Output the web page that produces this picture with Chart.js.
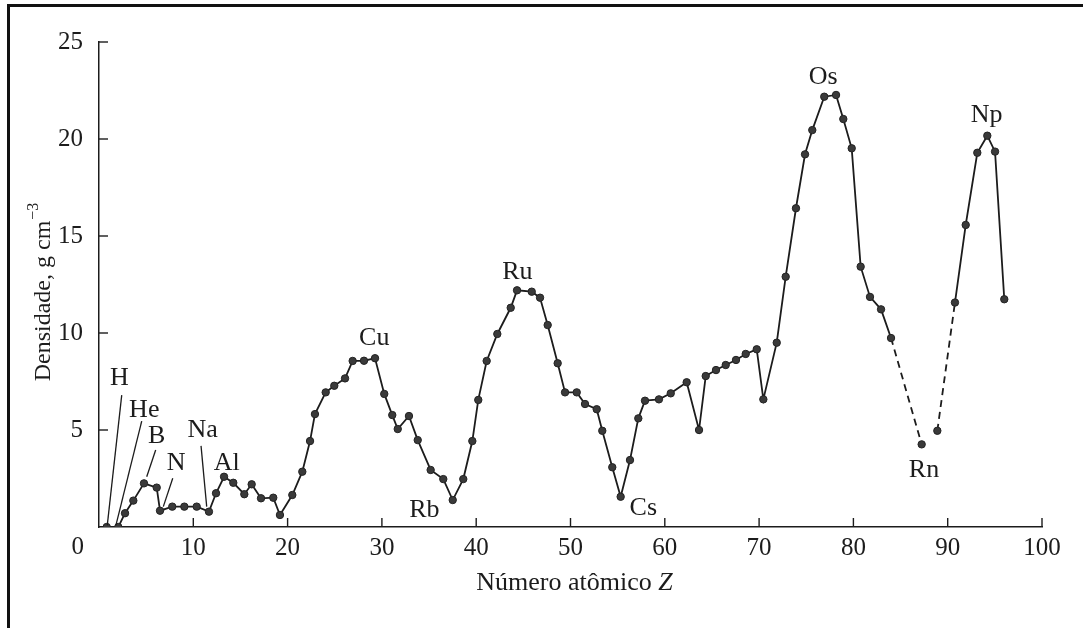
<!DOCTYPE html>
<html>
<head>
<meta charset="utf-8">
<script src="https://cdn.jsdelivr.net/npm/chart.js@4.4.1/dist/chart.umd.min.js"></script>
<style>
  html, body { margin: 0; padding: 0; background: #fff; }
  #wrap { position: relative; width: 1083px; height: 628px; }
  #frame { position: absolute; left: 7px; top: 4px; right: 0; bottom: 0;
           border-left: 3px solid #111; border-top: 3px solid #111; pointer-events: none; }
</style>
</head>
<body>
<div id="wrap">
  <canvas id="densityChart" width="1083" height="628"></canvas>
  <div id="frame"></div>
</div>
<script>
// posição no eixo Z e densidade em g cm-3
const zPos = [0.82, 2.05, 2.76, 3.64, 4.77, 6.12, 6.47, 7.77, 9.05, 10.36,
  11.66, 12.41, 13.26, 14.24, 15.41, 16.19, 17.18, 18.48, 19.19, 20.5,
  21.56, 22.38, 22.9, 24.04, 24.95, 26.09, 26.9, 28.1, 29.27, 30.25,
  31.1, 31.68, 32.87, 33.8, 35.17, 36.51, 37.51, 38.63, 39.59, 40.22,
  41.11, 42.24, 43.66, 44.33, 45.89, 46.77, 47.58, 48.64, 49.42, 50.66,
  51.54, 52.78, 53.37, 54.43, 55.32, 56.31, 57.19, 57.9, 59.38, 60.63,
  62.32, 63.63, 64.34, 65.43, 66.46, 67.55, 68.58, 69.75, 70.45, 71.87,
  72.82, 73.91, 74.87, 75.64, 76.91, 78.16, 78.93, 79.82, 80.77, 81.76,
  82.93, 83.99, 87.24, 88.0, 88.9, 90.77, 91.91, 93.14, 94.2, 95.02, 96.0];
const density = [0, 0, 0.71, 1.36, 2.25, 2.03, 0.84, 1.05, 1.05, 1.05,
  0.79, 1.74, 2.59, 2.28, 1.69, 2.2, 1.48, 1.51, 0.62, 1.65,
  2.85, 4.43, 5.82, 6.94, 7.28, 7.66, 8.56, 8.57, 8.7, 6.86,
  5.77, 5.05, 5.72, 4.48, 2.94, 2.47, 1.39, 2.47, 4.43, 6.55,
  8.56, 9.95, 11.3, 12.2, 12.13, 11.82, 10.41, 8.44, 6.94, 6.94,
  6.34, 6.07, 4.96, 3.08, 1.56, 3.45, 5.6, 6.51, 6.58, 6.89,
  7.46, 5.0, 7.78, 8.09, 8.35, 8.61, 8.92, 9.16, 6.58, 9.5,
  12.9, 16.43, 19.21, 20.46, 22.18, 22.27, 21.03, 19.52, 13.42, 11.86,
  11.22, 9.74, 4.26, null, 4.96, 11.57, 15.57, 19.29, 20.17, 19.35, 11.74];

const xTicks = [0, 10, 20, 30, 40, 50, 60, 70, 80, 90, 100];
const yTicks = [5, 10, 15, 20, 25];

// rótulos dos elementos
const labelText = ["H", "He", "B", "N", "Na", "Al", "Cu", "Rb", "Ru", "Cs", "Os", "Rn", "Np"];
const labelZ = [2.15, 4.8, 6.12, 8.17, 11.0, 13.54, 29.19, 34.5, 44.36, 57.72, 76.8, 87.49, 94.13];
const labelD = [7.66, 6.03, 4.69, 3.28, 5.0, 3.28, 9.73, 0.88, 13.16, 0.96, 23.21, 2.94, 21.24];

// linhas de ligação (H, He, B, N, Na)
const leaderZ1 = [2.41, 4.53, 6.01, 7.82, 10.82];
const leaderD1 = [6.8, 5.46, 3.97, 2.51, 4.18];
const leaderZ2 = [0.88, 1.8, 5.06, 6.82, 11.42];
const leaderD2 = [0.1, 0.1, 2.59, 1.05, 1.05];

const serif = "'Liberation Serif', 'DejaVu Serif', serif";
const ink = "#1c1c1c";

const extras = {
  id: "extras",
  afterDatasetsDraw(chart) {
    const { ctx, chartArea } = chart;
    const x = chart.scales.x;
    const y = chart.scales.y;
    ctx.save();
    ctx.strokeStyle = ink;
    ctx.lineWidth = 1.4;
    // marcas para dentro
    xTicks.forEach((v) => {
      if (v === 0) return;
      const px = x.getPixelForValue(v);
      ctx.beginPath();
      ctx.moveTo(px, chartArea.bottom);
      ctx.lineTo(px, chartArea.bottom - 9);
      ctx.stroke();
    });
    yTicks.forEach((v) => {
      const py = y.getPixelForValue(v);
      ctx.beginPath();
      ctx.moveTo(chartArea.left, py);
      ctx.lineTo(chartArea.left + 9, py);
      ctx.stroke();
    });
    // linhas de ligação
    ctx.lineWidth = 1.3;
    leaderZ1.forEach((z, i) => {
      ctx.beginPath();
      ctx.moveTo(x.getPixelForValue(z), y.getPixelForValue(leaderD1[i]));
      ctx.lineTo(x.getPixelForValue(leaderZ2[i]), y.getPixelForValue(leaderD2[i]));
      ctx.stroke();
    });
    // símbolos
    ctx.fillStyle = ink;
    ctx.font = "26px " + serif;
    ctx.textAlign = "center";
    ctx.textBaseline = "middle";
    labelText.forEach((t, i) => {
      ctx.fillText(t, x.getPixelForValue(labelZ[i]), y.getPixelForValue(labelD[i]));
    });

    // o "0" do canto, alinhado como os rótulos do eixo y
    ctx.font = "25px " + serif;
    ctx.textAlign = "right";
    ctx.fillText("0", chartArea.left - 15, chartArea.bottom + 20);

    // título do eixo x (Z em itálico)
    const xMid = (chartArea.left + chartArea.right) / 2 + 4;
    const part1 = "Número atômico ";
    ctx.font = "26px " + serif;
    const w1 = ctx.measureText(part1).width;
    ctx.font = "italic 26px " + serif;
    const w2 = ctx.measureText("Z").width;
    const sx = xMid - (w1 + w2) / 2;
    ctx.textAlign = "left";
    ctx.font = "26px " + serif;
    ctx.fillText(part1, sx, 583);
    ctx.font = "italic 26px " + serif;
    ctx.fillText("Z", sx + w1, 583);

    // título do eixo y
    ctx.translate(44, (chartArea.top + chartArea.bottom) / 2 + 8);
    ctx.rotate(-Math.PI / 2);
    ctx.font = "24px " + serif;
    const base = "Densidade, g cm";
    const wb = ctx.measureText(base).width;
    ctx.font = "16px " + serif;
    const ws = ctx.measureText("\u22123").width;
    const start = -(wb + ws) / 2;
    ctx.font = "24px " + serif;
    ctx.fillText(base, start, 0);
    ctx.font = "16px " + serif;
    ctx.fillText("\u22123", start + wb + 1, -10);
    ctx.restore();
  },
};

const densityChart = new Chart(document.getElementById("densityChart"), {
  type: "line",
  data: {
    datasets: [
      {
        data: zPos.map((z, i) => ({ x: z, y: density[i] })),
        borderColor: ink,
        borderWidth: 1.8,
        tension: 0,
        spanGaps: false,
        pointRadius: 3.7,
        pointBackgroundColor: "#3a3a3a",
        pointBorderColor: "#222",
        pointBorderWidth: 1,
        segment: {
          // trechos estimados (tracejados)
          borderDash: (c) => (c.p0.parsed.x > 83.5 && c.p0.parsed.x < 90 ? [7, 5] : undefined),
        },
      },
    ],
  },
  options: {
    responsive: false,
    animation: false,
    layout: { padding: { left: 0, top: 42, right: 41, bottom: 0 } },
    plugins: { legend: { display: false }, tooltip: { enabled: false } },
    scales: {
      x: {
        type: "linear",
        min: 0,
        max: 100,
        afterFit: (s) => { s.height = 101; },
        afterBuildTicks: (s) => { s.ticks = xTicks.map((v) => ({ value: v })); },
        grid: { display: false, drawTicks: false },
        border: { display: true, color: ink, width: 1.5 },
        ticks: {
          color: ink,
          padding: 6,
          font: { family: serif, size: 25 },
          callback: (v) => (v === 0 ? "" : v),
        },
      },
      y: {
        type: "linear",
        min: 0,
        max: 25,
        afterFit: (s) => { s.width = 99; },
        afterBuildTicks: (s) => { s.ticks = yTicks.map((v) => ({ value: v })); },
        grid: { display: false, drawTicks: false },
        border: { display: true, color: ink, width: 1.5 },
        ticks: { color: ink, padding: 16, font: { family: serif, size: 25 } },
      },
    },
  },
  plugins: [extras],
});
</script>
</body>
</html>
